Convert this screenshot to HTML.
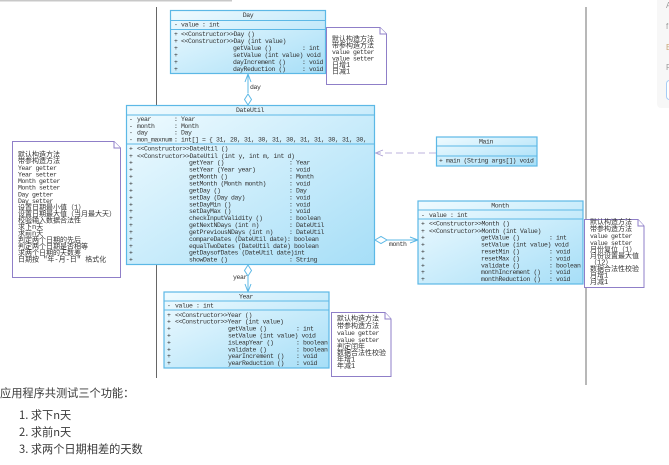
<!DOCTYPE html>
<html><head><meta charset="utf-8"><style>
html,body{margin:0;padding:0;background:#fff;width:669px;height:465px;overflow:hidden}
svg{display:block}
.u{font:6.5px "Liberation Mono","Noto Sans CJK SC",monospace;letter-spacing:-0.4px;fill:#333;white-space:pre}
.n{font:7px "Liberation Mono","Noto Sans CJK SC",monospace;fill:#333;white-space:pre}
.n .la{font-size:6.5px;letter-spacing:-0.4px}
.b{fill:url(#g);stroke:#5cb8e6;stroke-width:1.2}
.l{stroke:#5cb8e6;stroke-width:1}
.note{fill:#fff;stroke:#8f7fc8;stroke-width:1}
.d{fill:#fff;stroke:#5cb8e6;stroke-width:1}
.t{font:11.2px "Noto Sans CJK SC","Liberation Sans",sans-serif;fill:#3a3a3a}
</style></head><body>
<svg width="669" height="465" viewBox="0 0 669 465" xmlns="http://www.w3.org/2000/svg">
<defs>
<linearGradient id="g" x1="0" y1="0" x2="1" y2="1"><stop offset="0" stop-color="#f0fbff"/><stop offset="1" stop-color="#a6def7"/></linearGradient>
<filter id="f" x="-2%" y="-2%" width="104%" height="104%"><feGaussianBlur stdDeviation="0.3"/></filter>
</defs>
<rect x="0" y="0" width="232" height="1.5" fill="#c8c8c8"/>
<rect x="657" y="-10" width="20" height="118" rx="4" fill="#f7f7f7"/>
<text x="666" y="8" font-size="8" font-family="Liberation Sans" fill="#999">A</text>
<text x="666" y="29" font-size="8" font-family="Liberation Sans" fill="#999">f</text>
<text x="666" y="50" font-size="8" font-family="Liberation Sans" fill="#c8a878">B</text>
<text x="666" y="70" font-size="8" font-family="Liberation Sans" fill="#999">P</text>
<rect x="666.5" y="80.5" width="10" height="19" rx="3" fill="#fff" stroke="#a8ccf5"/>
<g filter="url(#f)">
<path d="M156.500 7V105M156.500 264V378" stroke="#666" stroke-width="1" fill="none"/>
<path d="M586 7V385" stroke="#888" stroke-width="1.2" fill="none"/>

<!-- connectors -->
<path d="M436 153H377" stroke="#a79bd2" stroke-width="0.8" stroke-dasharray="7 4" fill="none"/>
<path d="M383 150L375.500 153L383 156" stroke="#a79bd2" stroke-width="0.8" fill="none"/>
<path d="M248 74V93" class="l"/>
<path d="M245 82L248 74L251 82" class="l" fill="none"/>
<path d="M248 94L251.500 99.500L248 105L244.500 99.500Z" class="d"/>
<path d="M248 276V291" class="l"/>
<path d="M245 284L248 292L251 284" class="l" fill="none"/>
<path d="M248 265L251.500 270.500L248 276L244.500 270.500Z" class="d"/>
<path d="M387 240H418" class="l"/>
<path d="M410 237L418 240L410 243" class="l" fill="none"/>
<path d="M375 240L381 236.500L387 240L381 243.500Z" class="d"/>
<text class="u" x="250" y="89">day</text>
<text class="u" x="233" y="279">year</text>
<text class="u" x="389" y="246">month</text>

<!-- Day -->
<rect class="b" x="170.500" y="10.500" width="155" height="63"/>
<path class="l" d="M170.500 20.500H325.500M170.500 29.500H325.500"/>
<text class="u" x="248" y="17" text-anchor="middle">Day</text>
<g class="u">
<text x="174" y="26.500">-</text><text x="181" y="26.500">value : int</text>
<text x="174" y="36">+</text><text x="181" y="36">&lt;&lt;Constructor&gt;&gt;Day ()</text>
<text x="174" y="43">+</text><text x="181" y="43">&lt;&lt;Constructor&gt;&gt;Day (int value)</text>
<text x="174" y="50">+</text><text x="233" y="50">getValue ()</text><text x="302" y="50">: int</text>
<text x="174" y="57">+</text><text x="233" y="57">setValue (int value) void</text>
<text x="174" y="64">+</text><text x="233" y="64">dayIncrement ()</text><text x="302" y="64">: void</text>
<text x="174" y="71">+</text><text x="233" y="71">dayReduction ()</text><text x="302" y="71">: void</text>
</g>
<path class="note" d="M326.500 27.500H380L386.500 34V84.500H326.500Z"/>
<path class="note" d="M380 27.500V34H386.500" fill="none"/>
<g class="n">
<text x="332" y="41">默认构造方法</text>
<text x="332" y="47.500">带参构造方法</text>
<text class="la" x="332" y="54">value getter</text>
<text class="la" x="332" y="60.500">value setter</text>
<text x="332" y="67">日增1</text>
<text x="332" y="73.500">日减1</text>
</g>

<!-- DateUtil -->
<rect class="b" x="126.500" y="105.500" width="248" height="159"/>
<path class="l" d="M126.500 115H374.500M126.500 144H374.500"/>
<text class="u" x="250" y="112" text-anchor="middle">DateUtil</text>
<g class="u">
<text x="129" y="121">-</text><text x="137" y="121">year</text><text x="174" y="121">: Year</text>
<text x="129" y="128">-</text><text x="137" y="128">month</text><text x="174" y="128">: Month</text>
<text x="129" y="134.500">-</text><text x="137" y="134.500">day</text><text x="174" y="134.500">: Day</text>
<text x="129" y="141.500">-</text><text x="137" y="141.500">mon_maxnum</text><text x="174" y="141.500">: int[] = { 31, 28, 31, 30, 31, 30, 31, 31, 30, 31, 30,</text>
<text x="129" y="150.500">+</text><text x="137" y="150.500">&lt;&lt;Constructor&gt;&gt;DateUtil ()</text>
<text x="129" y="158">+</text><text x="137" y="158">&lt;&lt;Constructor&gt;&gt;DateUtil (int y, int m, int d)</text>
<text x="129" y="164.500">+</text><text x="189" y="164.500">getYear ()</text><text x="289" y="164.500">: Year</text>
<text x="129" y="171.500">+</text><text x="189" y="171.500">setYear (Year year)</text><text x="289" y="171.500">: void</text>
<text x="129" y="178.500">+</text><text x="189" y="178.500">getMonth ()</text><text x="289" y="178.500">: Month</text>
<text x="129" y="185.500">+</text><text x="189" y="185.500">setMonth (Month month)</text><text x="289" y="185.500">: void</text>
<text x="129" y="192.500">+</text><text x="189" y="192.500">getDay ()</text><text x="289" y="192.500">: Day</text>
<text x="129" y="199.500">+</text><text x="189" y="199.500">setDay (Day day)</text><text x="289" y="199.500">: void</text>
<text x="129" y="206.500">+</text><text x="189" y="206.500">setDayMin ()</text><text x="289" y="206.500">: void</text>
<text x="129" y="213">+</text><text x="189" y="213">setDayMax ()</text><text x="289" y="213">: void</text>
<text x="129" y="220">+</text><text x="189" y="220">checkInputValidity ()</text><text x="289" y="220">: boolean</text>
<text x="129" y="227">+</text><text x="189" y="227">getNextNDays (int n)</text><text x="289" y="227">: DateUtil</text>
<text x="129" y="234">+</text><text x="189" y="234">getPreviousNDays (int n)</text><text x="289" y="234">: DateUtil</text>
<text x="129" y="241">+</text><text x="189" y="241">compareDates (DateUtil date): boolean</text>
<text x="129" y="248">+</text><text x="189" y="248">equalTwoDates (DateUtil date) boolean</text>
<text x="129" y="254.500">+</text><text x="189" y="254.500">getDaysofDates (DateUtil date)int</text>
<text x="129" y="261.500">+</text><text x="189" y="261.500">showDate ()</text><text x="289" y="261.500">: String</text>
</g>

<!-- left note -->
<path class="note" d="M12.500 141.500H114L120.500 148V277.500H12.500Z"/>
<path class="note" d="M114 141.500V148H120.500" fill="none"/>
<g class="n">
<text x="18" y="156.500">默认构造方法</text>
<text x="18" y="163">带参构造方法</text>
<text class="la" x="18" y="170">Year getter</text>
<text class="la" x="18" y="176.500">Year setter</text>
<text class="la" x="18" y="183">Month getter</text>
<text class="la" x="18" y="189.500">Month setter</text>
<text class="la" x="18" y="196.500">Day getter</text>
<text class="la" x="18" y="203">Day setter</text>
<text x="18" y="209.500">设置日期最小值（1）</text>
<text x="18" y="216">设置日期最大值（当月最大天）</text>
<text x="18" y="222.500">校验输入数据合法性</text>
<text x="18" y="229">求下n天</text>
<text x="18" y="235.500">求前n天</text>
<text x="18" y="242">判定两个日期的先后</text>
<text x="18" y="248.500">判定两个日期是否相等</text>
<text x="18" y="255">求两个日期的天数差</text>
<text x="18" y="261.500">日期按 "年-月-日" 格式化</text>
</g>

<!-- Main -->
<rect class="b" x="436.500" y="137" width="100.500" height="29"/>
<path class="l" d="M436.500 146H537M436.500 156H537"/>
<text class="u" x="486" y="143.500" text-anchor="middle">Main</text>
<text class="u" x="439" y="162.500">+</text><text class="u" x="446" y="162.500">main (String args[]) void</text>

<!-- Month -->
<rect class="b" x="418" y="201" width="165" height="83"/>
<path class="l" d="M418 210H583M418 219H583"/>
<text class="u" x="500" y="207.500" text-anchor="middle">Month</text>
<g class="u">
<text x="421" y="217">-</text><text x="429" y="217">value : int</text>
<text x="421" y="225.500">+</text><text x="429" y="225.500">&lt;&lt;Constructor&gt;&gt;Month ()</text>
<text x="421" y="233">+</text><text x="429" y="233">&lt;&lt;Constructor&gt;&gt;Month (int Value)</text>
<text x="421" y="239.500">+</text><text x="481" y="239.500">getValue ()</text><text x="549" y="239.500">: int</text>
<text x="421" y="246.500">+</text><text x="481" y="246.500">setValue (int value) void</text>
<text x="421" y="253.500">+</text><text x="481" y="253.500">resetMin ()</text><text x="549" y="253.500">: void</text>
<text x="421" y="260.500">+</text><text x="481" y="260.500">resetMax ()</text><text x="549" y="260.500">: void</text>
<text x="421" y="267.500">+</text><text x="481" y="267.500">validate ()</text><text x="549" y="267.500">: boolean</text>
<text x="421" y="274">+</text><text x="481" y="274">monthIncrement ()</text><text x="549" y="274">: void</text>
<text x="421" y="281">+</text><text x="481" y="281">monthReduction ()</text><text x="549" y="281">: void</text>
</g>
<path class="note" d="M584.500 219.500H638L644 226V287.500H584.500Z"/>
<path class="note" d="M638 219.500V226H644" fill="none"/>
<g class="n">
<text x="590" y="224">默认构造方法</text>
<text x="590" y="231">带参构造方法</text>
<text class="la" x="590" y="238">value getter</text>
<text class="la" x="590" y="245">value setter</text>
<text x="590" y="251.500">月份复位（1）</text>
<text x="590" y="258">月份设置最大值</text>
<text x="590" y="264.500">（12）</text>
<text x="590" y="271">数据合法性校验</text>
<text x="590" y="277.500">月增1</text>
<text x="590" y="284">月减1</text>
</g>

<!-- Year -->
<rect class="b" x="164" y="292" width="165" height="76"/>
<path class="l" d="M164 301H329M164 310H329"/>
<text class="u" x="246" y="298.500" text-anchor="middle">Year</text>
<g class="u">
<text x="167" y="307.500">-</text><text x="175" y="307.500">value : int</text>
<text x="167" y="317">+</text><text x="175" y="317">&lt;&lt;Constructor&gt;&gt;Year ()</text>
<text x="167" y="323.500">+</text><text x="175" y="323.500">&lt;&lt;Constructor&gt;&gt;Year (int value)</text>
<text x="167" y="330.500">+</text><text x="228" y="330.500">getValue ()</text><text x="296" y="330.500">: int</text>
<text x="167" y="337.500">+</text><text x="228" y="337.500">setValue (int value) void</text>
<text x="167" y="344.500">+</text><text x="228" y="344.500">isLeapYear ()</text><text x="296" y="344.500">: boolean</text>
<text x="167" y="351.500">+</text><text x="228" y="351.500">validate ()</text><text x="296" y="351.500">: boolean</text>
<text x="167" y="358">+</text><text x="228" y="358">yearIncrement ()</text><text x="296" y="358">: void</text>
<text x="167" y="365">+</text><text x="228" y="365">yearReduction ()</text><text x="296" y="365">: void</text>
</g>
<path class="note" d="M331.500 312.500H385L391 319V376.500H331.500Z"/>
<path class="note" d="M385 312.500V319H391" fill="none"/>
<g class="n">
<text x="337" y="320.500">默认构造方法</text>
<text x="337" y="328">带参构造方法</text>
<text class="la" x="337" y="335">value getter</text>
<text class="la" x="337" y="342">value setter</text>
<text x="337" y="348.500">判定闰年</text>
<text x="337" y="355">数据合法性校验</text>
<text x="337" y="361.500">年增1</text>
<text x="337" y="368">年减1</text>
</g>
</g>

<!-- bottom text -->
<text class="t" x="0" y="397">应用程序共测试三个功能：</text>
<text class="t" x="19" y="419">1. 求下n天</text>
<text class="t" x="19" y="436">2. 求前n天</text>
<text class="t" x="19" y="453">3. 求两个日期相差的天数</text>
</svg>
</body></html>
